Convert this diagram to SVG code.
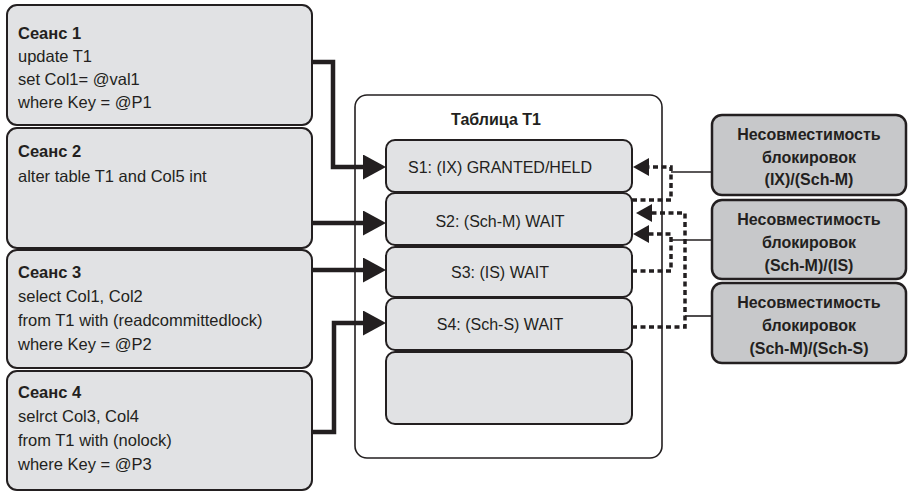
<svg xmlns="http://www.w3.org/2000/svg" width="908" height="493" viewBox="0 0 908 493">
<style>
text{font-family:"Liberation Sans",Arial,sans-serif;fill:#231f20;font-size:16px}
.s{font-size:16.5px}
.b{font-weight:bold}
.c{text-anchor:middle}
.sess{fill:#e1e2e4;stroke:#231f20;stroke-width:2}
.lock{fill:#e1e2e4;stroke:#231f20;stroke-width:2}
.inc{fill:#c7c8ca;stroke:#231f20;stroke-width:2.5}
.cont{fill:#fff;stroke:#231f20;stroke-width:1.6}
.thick{fill:none;stroke:#231f20;stroke-width:4.5;marker-end:url(#big)}
.dota{fill:none;stroke:#231f20;stroke-width:3.5;stroke-dasharray:5 3.5;marker-end:url(#small)}
.thin{fill:none;stroke:#231f20;stroke-width:1.6}
</style>
<defs>
<marker id="big" viewBox="0 0 23 25" refX="0" refY="12.5" markerWidth="23" markerHeight="25" markerUnits="userSpaceOnUse" orient="auto"><path d="M0,0 L23,12.5 L0,25 z" fill="#231f20"/></marker>
<marker id="small" viewBox="0 0 16 18" refX="0" refY="9" markerWidth="16" markerHeight="18" markerUnits="userSpaceOnUse" orient="auto"><path d="M0,0 L16,9 L0,18 z" fill="#231f20"/></marker>
</defs>
<g id="session1"><rect class="sess" x="7" y="5" width="305" height="120" rx="10"/>
<text class="b s" x="18" y="39">Сеанс 1</text><text class="s" x="18" y="62">update T1</text><text class="s" x="18" y="85">set Col1= @val1</text><text class="s" x="18" y="108">where Key = @P1</text></g>
<g id="session2"><rect class="sess" x="7" y="128" width="305" height="120" rx="10"/>
<text class="b s" x="18" y="157">Сеанс 2</text><text class="s" x="18" y="182">alter table T1 and Col5 int</text></g>
<g id="session3"><rect class="sess" x="7" y="250" width="305" height="118" rx="10"/>
<text class="b s" x="18" y="278">Сеанс 3</text><text class="s" x="18" y="302">select Col1, Col2</text><text class="s" x="18" y="326">from T1 with (readcommittedlock)</text><text class="s" x="18" y="350">where Key = @P2</text></g>
<g id="session4"><rect class="sess" x="7" y="371" width="305" height="119" rx="10"/>
<text class="b s" x="18" y="398">Сеанс 4</text><text class="s" x="18" y="422">selrct Col3, Col4</text><text class="s" x="18" y="446">from T1 with (nolock)</text><text class="s" x="18" y="470">where Key = @P3</text></g>
<g id="table"><rect class="cont" x="355" y="95" width="307" height="363" rx="12"/>
<text class="b c" x="496" y="125">Таблица T1</text></g>
<g id="lockS1"><rect class="lock" x="386" y="140" width="246" height="52" rx="9"/><text class="c" x="500" y="173">S1: (IX) GRANTED/HELD</text></g>
<g id="lockS2"><rect class="lock" x="386" y="193" width="246" height="52" rx="9"/><text class="c" x="500" y="227">S2: (Sch-M) WAIT</text></g>
<g id="lockS3"><rect class="lock" x="386" y="247" width="246" height="50" rx="9"/><text class="c" x="500" y="278">S3: (IS) WAIT</text></g>
<g id="lockS4"><rect class="lock" x="386" y="298" width="246" height="52" rx="9"/><text class="c" x="500" y="330">S4: (Sch-S) WAIT</text></g>
<g id="lockEmpty"><rect class="lock" x="386" y="352" width="246" height="72" rx="9"/></g>
<g id="incA"><rect class="inc" x="712" y="115" width="194" height="80" rx="10"/>
<text class="b c" x="809" y="140">Несовместимость</text><text class="b c" x="809" y="163">блокировок</text><text class="b c" x="809" y="185">(IX)/(Sch-M)</text></g>
<g id="incB"><rect class="inc" x="712" y="200" width="194" height="79" rx="10"/>
<text class="b c" x="809" y="225">Несовместимость</text><text class="b c" x="809" y="248">блокировок</text><text class="b c" x="809" y="271">(Sch-M)/(IS)</text></g>
<g id="incC"><rect class="inc" x="712" y="283" width="194" height="80" rx="10"/>
<text class="b c" x="809" y="308">Несовместимость</text><text class="b c" x="809" y="331">блокировок</text><text class="b c" x="809" y="354">(Sch-M)/(Sch-S)</text></g>
<g id="connectors">
<path class="thick" d="M312,62 H333 V167 H363"/>
<path class="thick" d="M312,223 H363"/>
<path class="thick" d="M312,270 H363"/>
<path class="thick" d="M312,432 H334 V323 H363"/>
<path class="thin" d="M712,172 H671"/>
<path class="dota" d="M632,200 H671 V167 H649"/>
<path class="thin" d="M712,240 H671"/>
<path class="dota" d="M632,271 H671 V234 H649"/>
<path class="thin" d="M712,316 H685"/>
<path class="dota" d="M632,327 H685 V213 H652"/>
</g>
</svg>
